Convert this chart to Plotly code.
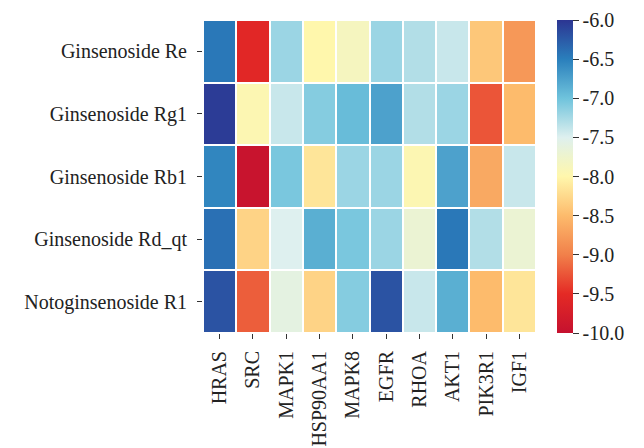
import plotly.graph_objects as go

compounds = ["Ginsenoside Re", "Ginsenoside Rg1", "Ginsenoside Rb1",
             "Ginsenoside Rd_qt", "Notoginsenoside R1"]
targets = ["HRAS", "SRC", "MAPK1", "HSP90AA1", "MAPK8", "EGFR",
           "RHOA", "AKT1", "PIK3R1", "IGF1"]

row_re = [-6.45, -9.55, -7.2, -8.0, -7.85, -7.2, -7.3, -7.4, -8.4, -8.8]
row_rg1 = [-6.05, -7.95, -7.4, -7.1, -6.95, -6.75, -7.3, -7.2, -9.25, -8.5]
row_rb1 = [-6.55, -9.95, -7.05, -8.15, -7.2, -7.2, -7.95, -6.75, -8.65, -7.4]
row_rdqt = [-6.4, -8.3, -7.5, -6.85, -7.05, -7.2, -7.7, -6.45, -7.3, -7.7]
row_r1 = [-6.2, -9.2, -7.6, -8.3, -7.1, -6.2, -7.4, -6.85, -8.5, -8.15]

z = [row_re, row_rg1, row_rb1, row_rdqt, row_r1]

colorscale = [
    [0.0, "#c5112f"],
    [0.125, "#e42a25"],
    [0.25, "#f1804a"],
    [0.375, "#fdbb6c"],
    [0.5, "#fff7ac"],
    [0.5625, "#eef4cc"],
    [0.625, "#def0ef"],
    [0.75, "#6fc3dc"],
    [0.875, "#2a7fbc"],
    [1.0, "#2c3592"],
]

font_family = "Liberation Serif"
fsize = 20

fig = go.Figure(go.Heatmap(
    z=z, x=targets, y=compounds,
    zmin=-10, zmax=-6,
    colorscale=colorscale,
    xgap=2, ygap=2,
    colorbar=dict(
        thickness=16, len=1.0, lenmode="fraction",
        x=1.063, xanchor="left", xpad=0, ypad=0,
        y=0.5, yanchor="middle",
        outlinewidth=0,
        tickmode="array",
        tickvals=[-6.0, -6.5, -7.0, -7.5, -8.0, -8.5, -9.0, -9.5, -10.0],
        ticktext=["-6.0", "-6.5", "-7.0", "-7.5", "-8.0", "-8.5", "-9.0", "-9.5", "-10.0"],
        ticks="outside", ticklen=6, tickcolor="#333333",
        tickfont=dict(family=font_family, size=fsize, color="#222222"),
    ),
))

fig.update_layout(
    width=644, height=448,
    margin=dict(l=203, r=108, t=20, b=115, autoexpand=False),
    paper_bgcolor="white", plot_bgcolor="white",
    font=dict(family=font_family, size=fsize, color="#222222"),
)
fig.update_xaxes(
    tickangle=-90, ticks="outside", ticklen=5, tickcolor="#333333",
    showgrid=False, zeroline=False, showline=False, automargin=False,
    ticklabelstandoff=4,
    tickfont=dict(family=font_family, size=fsize, color="#222222"),
)
fig.update_yaxes(
    autorange="reversed", ticks="outside", ticklen=5, tickcolor="#333333",
    showgrid=False, zeroline=False, showline=False, automargin=False,
    ticklabelstandoff=6,
    tickfont=dict(family=font_family, size=fsize, color="#222222"),
)

fig.write_html("out.html")
